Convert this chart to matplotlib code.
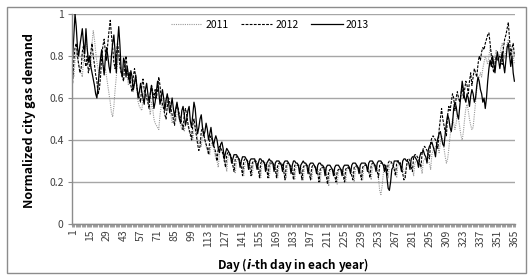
import matplotlib
matplotlib.use("Agg")
import matplotlib.pyplot as plt
from matplotlib.patches import Rectangle

plt.rcParams['font.family'] = ['Noto Sans CJK KR', 'DejaVu Sans']
plt.rcParams['mathtext.fontset'] = 'custom'
plt.rcParams['mathtext.it'] = 'DejaVu Sans:italic:bold'

# day of year (category axis)
days = list(range(1, 366))
tick_days = list(range(1, 366, 14))

# normalized city gas demand
y2011 = [
    0.75, 0.70, 0.78, 0.82, 0.80, 0.76, 0.74,
    0.72, 0.70, 0.78, 0.84, 0.88, 0.83, 0.80,
    0.78, 0.74, 0.86, 0.92, 0.88, 0.82, 0.77,
    0.74, 0.70, 0.76, 0.80, 0.77, 0.72, 0.74,
    0.70, 0.66, 0.62, 0.58, 0.53, 0.51, 0.56,
    0.64, 0.70, 0.76, 0.80, 0.78, 0.72, 0.70,
    0.75, 0.78, 0.74, 0.70, 0.66, 0.68, 0.70,
    0.68, 0.63, 0.66, 0.70, 0.64, 0.58, 0.56,
    0.55, 0.54, 0.60, 0.64, 0.60, 0.62, 0.58,
    0.56, 0.52, 0.58, 0.55, 0.50, 0.48, 0.47,
    0.46, 0.45, 0.52, 0.56, 0.58, 0.55, 0.57,
    0.60, 0.55, 0.58, 0.56, 0.52, 0.48, 0.50,
    0.53, 0.49, 0.52, 0.53, 0.50, 0.47, 0.45,
    0.47, 0.44, 0.48, 0.50, 0.47, 0.44, 0.42,
    0.44, 0.40, 0.45, 0.47, 0.44, 0.40, 0.38,
    0.40, 0.37, 0.42, 0.43, 0.40, 0.37, 0.35,
    0.36, 0.33, 0.38, 0.39, 0.37, 0.34, 0.31,
    0.30, 0.27, 0.34, 0.36, 0.35, 0.33, 0.31,
    0.29, 0.25, 0.32, 0.33, 0.32, 0.31, 0.30,
    0.28, 0.24, 0.30, 0.31, 0.31, 0.30, 0.29,
    0.27, 0.23, 0.29, 0.30, 0.30, 0.30, 0.29,
    0.27, 0.23, 0.29, 0.30, 0.30, 0.29, 0.28,
    0.26, 0.22, 0.29, 0.29, 0.29, 0.29, 0.28,
    0.26, 0.22, 0.28, 0.29, 0.29, 0.28, 0.28,
    0.26, 0.22, 0.28, 0.29, 0.29, 0.28, 0.27,
    0.25, 0.22, 0.28, 0.28, 0.28, 0.28, 0.27,
    0.25, 0.21, 0.27, 0.28, 0.28, 0.28, 0.27,
    0.25, 0.21, 0.27, 0.28, 0.28, 0.27, 0.26,
    0.24, 0.21, 0.27, 0.27, 0.27, 0.27, 0.26,
    0.24, 0.20, 0.26, 0.27, 0.27, 0.27, 0.26,
    0.23, 0.18, 0.25, 0.26, 0.26, 0.26, 0.25,
    0.23, 0.19, 0.25, 0.26, 0.26, 0.26, 0.25,
    0.23, 0.20, 0.26, 0.27, 0.27, 0.26, 0.25,
    0.24, 0.20, 0.26, 0.27, 0.27, 0.27, 0.26,
    0.24, 0.21, 0.27, 0.28, 0.28, 0.27, 0.26,
    0.25, 0.21, 0.27, 0.28, 0.28, 0.28, 0.27,
    0.22, 0.16, 0.14, 0.18, 0.24, 0.27, 0.28,
    0.25, 0.22, 0.28, 0.29, 0.29, 0.28, 0.27,
    0.25, 0.22, 0.28, 0.29, 0.29, 0.28, 0.27,
    0.25, 0.22, 0.28, 0.29, 0.29, 0.29, 0.28,
    0.26, 0.23, 0.29, 0.30, 0.30, 0.29, 0.28,
    0.27, 0.24, 0.30, 0.31, 0.31, 0.30, 0.30,
    0.29, 0.26, 0.33, 0.35, 0.36, 0.37, 0.38,
    0.36, 0.34, 0.39, 0.42, 0.40, 0.36, 0.32,
    0.29, 0.31, 0.36, 0.42, 0.46, 0.50, 0.48,
    0.45, 0.48, 0.52, 0.50, 0.46, 0.42, 0.40,
    0.44, 0.50, 0.55, 0.57, 0.54, 0.50, 0.47,
    0.45, 0.46, 0.52, 0.58, 0.64, 0.68, 0.70,
    0.72, 0.70, 0.74, 0.77, 0.80, 0.78, 0.76,
    0.80, 0.84, 0.82, 0.78, 0.75, 0.80, 0.83,
    0.81, 0.78, 0.80, 0.84, 0.86, 0.82, 0.79,
    0.82, 0.86, 0.88, 0.84, 0.80, 0.83, 0.80,
    0.76,
]

y2012 = [
    0.67, 0.78, 0.84, 0.86, 0.80, 0.76, 0.72,
    0.74, 0.82, 0.85, 0.78, 0.75, 0.80, 0.72,
    0.75, 0.82, 0.86, 0.80, 0.76, 0.71, 0.68,
    0.62, 0.64, 0.70, 0.80, 0.85, 0.88, 0.82,
    0.78, 0.86, 0.92, 0.97, 0.90, 0.84, 0.77,
    0.74, 0.80, 0.86, 0.82, 0.75, 0.72, 0.70,
    0.68, 0.76, 0.80, 0.74, 0.69, 0.72, 0.66,
    0.63, 0.70, 0.74, 0.70, 0.65, 0.62, 0.60,
    0.58, 0.66, 0.69, 0.64, 0.62, 0.60, 0.58,
    0.55, 0.62, 0.66, 0.63, 0.60, 0.64, 0.60,
    0.64, 0.70, 0.66, 0.60, 0.57, 0.55, 0.52,
    0.50, 0.56, 0.60, 0.58, 0.55, 0.52, 0.50,
    0.47, 0.54, 0.57, 0.55, 0.52, 0.50, 0.48,
    0.45, 0.52, 0.55, 0.52, 0.48, 0.45, 0.43,
    0.40, 0.47, 0.50, 0.46, 0.42, 0.38, 0.35,
    0.37, 0.44, 0.46, 0.43, 0.40, 0.38, 0.36,
    0.33, 0.40, 0.42, 0.40, 0.38, 0.36, 0.34,
    0.30, 0.36, 0.37, 0.36, 0.35, 0.33, 0.30,
    0.27, 0.33, 0.34, 0.33, 0.33, 0.31, 0.28,
    0.25, 0.31, 0.32, 0.32, 0.31, 0.30, 0.27,
    0.23, 0.30, 0.31, 0.31, 0.30, 0.29, 0.27,
    0.23, 0.29, 0.30, 0.30, 0.30, 0.29, 0.26,
    0.22, 0.29, 0.30, 0.30, 0.29, 0.28, 0.26,
    0.22, 0.29, 0.29, 0.29, 0.29, 0.28, 0.26,
    0.22, 0.28, 0.29, 0.29, 0.29, 0.28, 0.25,
    0.21, 0.28, 0.29, 0.29, 0.28, 0.27, 0.25,
    0.21, 0.28, 0.28, 0.28, 0.28, 0.27, 0.25,
    0.21, 0.27, 0.28, 0.28, 0.28, 0.27, 0.24,
    0.21, 0.27, 0.28, 0.28, 0.27, 0.26, 0.24,
    0.20, 0.26, 0.27, 0.27, 0.27, 0.26, 0.23,
    0.19, 0.25, 0.26, 0.26, 0.26, 0.25, 0.23,
    0.20, 0.25, 0.26, 0.26, 0.26, 0.25, 0.23,
    0.20, 0.26, 0.27, 0.27, 0.26, 0.25, 0.23,
    0.21, 0.27, 0.27, 0.28, 0.27, 0.26, 0.24,
    0.21, 0.27, 0.28, 0.28, 0.28, 0.27, 0.25,
    0.22, 0.28, 0.29, 0.29, 0.28, 0.27, 0.25,
    0.22, 0.28, 0.29, 0.29, 0.29, 0.28, 0.26,
    0.23, 0.29, 0.30, 0.30, 0.29, 0.28, 0.26,
    0.23, 0.29, 0.30, 0.30, 0.29, 0.27, 0.24,
    0.21, 0.22, 0.27, 0.31, 0.31, 0.30, 0.27,
    0.25, 0.32, 0.33, 0.33, 0.32, 0.31, 0.29,
    0.27, 0.34, 0.36, 0.37, 0.36, 0.35, 0.33,
    0.31, 0.39, 0.41, 0.42, 0.41, 0.40, 0.38,
    0.36, 0.45, 0.50, 0.55, 0.50, 0.47, 0.44,
    0.42, 0.52, 0.56, 0.54, 0.58, 0.62, 0.60,
    0.54, 0.60, 0.63, 0.60, 0.58, 0.62, 0.66,
    0.60, 0.64, 0.68, 0.66, 0.62, 0.68, 0.72,
    0.66, 0.70, 0.74, 0.72, 0.70, 0.76, 0.80,
    0.78, 0.82, 0.84, 0.83, 0.86, 0.88, 0.90,
    0.91, 0.86, 0.80, 0.75, 0.72, 0.76, 0.80,
    0.78, 0.79, 0.80, 0.77, 0.76, 0.84, 0.88,
    0.90, 0.93, 0.96, 0.88, 0.80, 0.84, 0.86,
    0.80,
]

y2013 = [
    0.79, 0.90, 1.00, 0.94, 0.84, 0.80, 0.85,
    0.89, 0.93, 0.86, 0.81, 0.93, 0.84, 0.77,
    0.80, 0.75, 0.72, 0.69, 0.66, 0.62, 0.60,
    0.66, 0.73, 0.79, 0.83, 0.76, 0.71, 0.79,
    0.84, 0.80, 0.75, 0.72, 0.80, 0.86, 0.90,
    0.82, 0.72, 0.86, 0.94, 0.85, 0.73, 0.70,
    0.79, 0.77, 0.70, 0.75, 0.71, 0.67, 0.73,
    0.70, 0.64, 0.67, 0.71, 0.65, 0.60, 0.63,
    0.67, 0.63, 0.60, 0.57, 0.64, 0.67, 0.62,
    0.58, 0.62, 0.66, 0.61, 0.55, 0.58, 0.63,
    0.68, 0.63, 0.57, 0.60, 0.64, 0.60, 0.54,
    0.59, 0.62, 0.58, 0.53, 0.56, 0.60, 0.55,
    0.51, 0.55, 0.58, 0.54, 0.50, 0.48, 0.54,
    0.56, 0.52, 0.47, 0.50, 0.54, 0.56, 0.49,
    0.46, 0.52, 0.58, 0.55, 0.48, 0.43, 0.46,
    0.50, 0.52, 0.46, 0.42, 0.44, 0.48, 0.45,
    0.40, 0.43, 0.46, 0.41, 0.37, 0.40, 0.42,
    0.40, 0.36, 0.34, 0.38, 0.39, 0.36, 0.31,
    0.34, 0.36, 0.35, 0.34, 0.33, 0.29, 0.31,
    0.33, 0.33, 0.33, 0.32, 0.31, 0.27, 0.30,
    0.32, 0.32, 0.32, 0.31, 0.30, 0.26, 0.30,
    0.31, 0.31, 0.31, 0.31, 0.29, 0.26, 0.29,
    0.31, 0.31, 0.30, 0.30, 0.29, 0.25, 0.29,
    0.30, 0.31, 0.30, 0.30, 0.29, 0.25, 0.29,
    0.30, 0.30, 0.30, 0.29, 0.28, 0.25, 0.29,
    0.30, 0.30, 0.30, 0.29, 0.28, 0.24, 0.28,
    0.30, 0.30, 0.29, 0.29, 0.28, 0.24, 0.28,
    0.29, 0.30, 0.29, 0.29, 0.28, 0.24, 0.28,
    0.29, 0.29, 0.29, 0.28, 0.27, 0.24, 0.28,
    0.29, 0.29, 0.28, 0.28, 0.27, 0.23, 0.27,
    0.28, 0.28, 0.28, 0.27, 0.26, 0.23, 0.27,
    0.28, 0.28, 0.28, 0.27, 0.26, 0.23, 0.27,
    0.28, 0.28, 0.28, 0.28, 0.27, 0.24, 0.28,
    0.29, 0.29, 0.29, 0.28, 0.27, 0.24, 0.28,
    0.29, 0.29, 0.29, 0.29, 0.28, 0.25, 0.29,
    0.30, 0.30, 0.30, 0.29, 0.28, 0.25, 0.29,
    0.30, 0.30, 0.30, 0.29, 0.28, 0.25, 0.28,
    0.22, 0.17, 0.16, 0.20, 0.26, 0.27, 0.30,
    0.30, 0.30, 0.30, 0.29, 0.28, 0.25, 0.30,
    0.31, 0.31, 0.30, 0.30, 0.29, 0.26, 0.31,
    0.32, 0.32, 0.32, 0.31, 0.30, 0.27, 0.32,
    0.34, 0.34, 0.35, 0.33, 0.32, 0.29, 0.35,
    0.37, 0.38, 0.39, 0.37, 0.35, 0.32, 0.38,
    0.41, 0.43, 0.44, 0.41, 0.38, 0.37, 0.43,
    0.48, 0.52, 0.50, 0.46, 0.44, 0.48, 0.55,
    0.58, 0.56, 0.52, 0.50, 0.56, 0.62, 0.68,
    0.64, 0.60, 0.58, 0.62, 0.60, 0.56, 0.61,
    0.64, 0.62, 0.58, 0.60, 0.66, 0.70, 0.68,
    0.64, 0.62, 0.58, 0.60, 0.55, 0.60, 0.68,
    0.74, 0.78, 0.75, 0.80, 0.76, 0.72, 0.78,
    0.82, 0.78, 0.74, 0.78, 0.82, 0.76, 0.72,
    0.78, 0.84, 0.86, 0.80, 0.75, 0.80, 0.72,
    0.68,
]

W, H = 528, 275
fig = plt.figure(figsize=(W / 100, H / 100), dpi=100)

# outer chart border
fig.patches.append(Rectangle((7 / W, 2 / H), 519 / W, 266 / H, transform=fig.transFigure,
                             fill=False, edgecolor='#8c8c8c', linewidth=1))

ax = fig.add_axes([72 / W, 51 / H, 443 / W, 210 / H])

ax.plot(days, y2011, color='#999999', linestyle=(0, (1, 1)), linewidth=0.8, label='2011')
ax.plot(days, y2012, color='black', linestyle=(0, (2.5, 1.2)), linewidth=0.8, label='2012')
ax.plot(days, y2013, color='black', linestyle='-', linewidth=0.9, label='2013')

ax.set_xlim(0.5, 365.5)
ax.set_ylim(0, 1)
ax.set_yticks([0, 0.2, 0.4, 0.6, 0.8, 1.0])
ax.set_yticklabels(['0', '0.2', '0.4', '0.6', '0.8', '1'])
ax.set_xticks(tick_days)
ax.set_xticklabels([str(d) for d in tick_days], rotation=90)
ax.set_xticks([d + 0.5 for d in range(0, 366)], minor=True)

ax.grid(axis='y', color='#a6a6a6', linewidth=1)
ax.set_axisbelow(True)
for s in ['top', 'right']:
    ax.spines[s].set_visible(False)
for s in ['left', 'bottom']:
    ax.spines[s].set_color('#8c8c8c')
    ax.spines[s].set_linewidth(1)

ax.tick_params(axis='x', which='major', length=0, pad=4, labelsize=7.5, labelcolor='#404040')
ax.tick_params(axis='x', which='minor', length=2.5, width=0.6, color='#8c8c8c')
ax.tick_params(axis='y', which='major', length=3, color='#8c8c8c', labelsize=7.5,
               labelcolor='#404040', pad=3)

ax.legend(loc='center', bbox_to_anchor=(0.447, 0.95), ncol=3, frameon=False,
          fontsize=7.5, handlelength=3.0, handletextpad=0.3, columnspacing=1.2)

fig.text(30 / W, 1 - 121 / H, 'Normalized city gas demand', rotation=90,
         ha='center', va='center', fontsize=9, fontweight='bold')
fig.text(293.5 / W, 1 - 265 / H, r'Day ($\mathit{i}$-th day in each year)',
         ha='center', va='center', fontsize=8.5, fontweight='bold')

fig.savefig('out.png', dpi=100)
